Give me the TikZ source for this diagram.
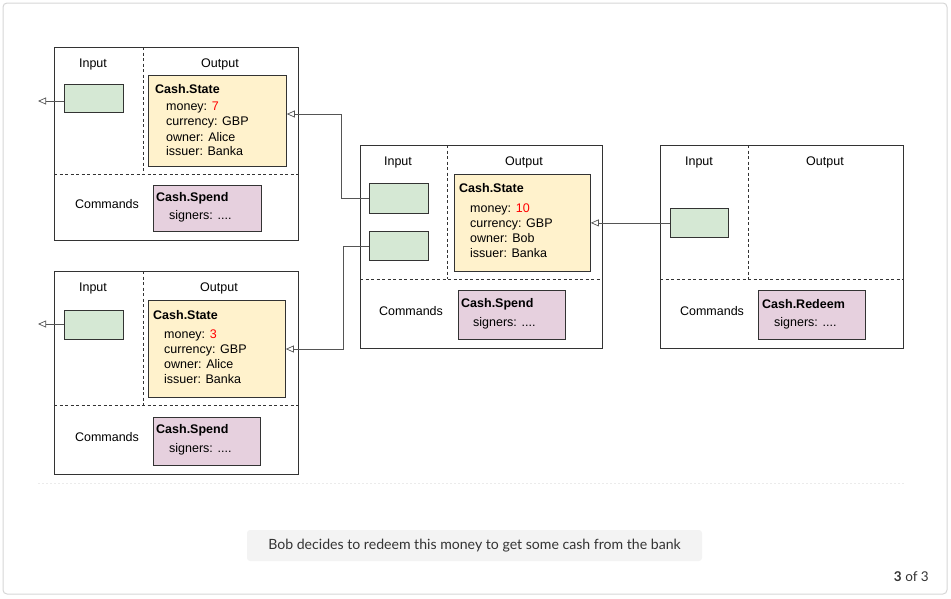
\documentclass[tikz,border=0pt]{standalone}
\usepackage{fontspec}
\setmainfont{Liberation Sans}
\newfontfamily\capfont{Lato}
\usetikzlibrary{arrows.meta}
\definecolor{gfill}{HTML}{D5E8D4}
\definecolor{yfill}{HTML}{FFF2CC}
\definecolor{pfill}{HTML}{E6D0DE}
\definecolor{edge}{HTML}{333333}
\definecolor{conn}{HTML}{555555}
\definecolor{frame}{HTML}{D6D6D6}
\definecolor{capbg}{HTML}{F3F3F3}
\definecolor{captxt}{HTML}{333333}
\tikzset{
  txbox/.style={draw=edge, line width=0.8pt, fill=white},
  sep/.style={draw=edge, line width=0.8pt, dash pattern=on 3pt off 2.5pt},
  greenbox/.style={draw=edge, line width=0.8pt, fill=gfill},
  yellowbox/.style={draw=edge, line width=0.8pt, fill=yfill},
  purplebox/.style={draw=edge, line width=0.8pt, fill=pfill},
  lbl/.style={font=\fontsize{12.5}{14}\selectfont, inner sep=0pt},
  ltxt/.style={font=\fontsize{12.5}{14}\selectfont, inner sep=0pt, anchor=west},
  btxt/.style={font=\fontsize{12.5}{14}\selectfont\bfseries, inner sep=0pt, anchor=west},
  arr/.style={draw=conn, line width=0.7pt, -{Triangle[open, length=8pt, width=7pt]}},
}
\newcommand{\redv}[1]{\textcolor{red}{#1}}
\begin{document}
\begin{tikzpicture}[x=1pt, y=-1pt]
\useasboundingbox (0,0) rectangle (951,598);
\draw[frame, line width=1pt, rounded corners=4pt] (3,3) rectangle (947,594);
\draw[black!8, line width=0.6pt, dash pattern=on 2pt off 2pt] (38,483) -- (905,483);

% ---------- Box 1 (top-left) ----------
\path[txbox] (54,47) rectangle (298,240);
\draw[sep] (143,47) -- (143,174);
\draw[sep] (54,174) -- (298,174);
\node[lbl] (in1) at (93,64) {Input};
\node[lbl] (out1) at (220,64) {Output};
\node[greenbox, minimum width=59pt, minimum height=28pt, anchor=north west] (g1) at (64,84) {};
\node[yellowbox, minimum width=138pt, minimum height=91pt, anchor=north west] (y1) at (148,75) {};
\node[btxt] (t1a) at (155,89) {Cash.State};
\node[ltxt] (t1b) at (166,107) {money: \redv{7}};
\node[ltxt] (t1c) at (166,122) {currency: GBP};
\node[ltxt] (t1d) at (166,137) {owner: Alice};
\node[ltxt] (t1e) at (166,151.5) {issuer: Banka};
\node[lbl] (cm1) at (107,204) {Commands};
\node[purplebox, minimum width=108pt, minimum height=46pt, anchor=north west] (p1) at (153,185) {};
\node[btxt] (p1a) at (156,198) {Cash.Spend};
\node[ltxt] (p1b) at (169,216.5) {signers: ....};

% ---------- Box 2 (bottom-left) ----------
\path[txbox] (54,271) rectangle (298,474);
\draw[sep] (143,271) -- (143,405);
\draw[sep] (54,405) -- (298,405);
\node[lbl] (in2) at (93,288.5) {Input};
\node[lbl] (out2) at (219,288.5) {Output};
\node[greenbox, minimum width=59pt, minimum height=29pt, anchor=north west] (g2) at (64,310) {};
\node[yellowbox, minimum width=137pt, minimum height=97pt, anchor=north west] (y2) at (148,300) {};
\node[btxt] (t2a) at (153,315) {Cash.State};
\node[ltxt] (t2b) at (164,335) {money: \redv{3}};
\node[ltxt] (t2c) at (164,350) {currency: GBP};
\node[ltxt] (t2d) at (164,364.5) {owner: Alice};
\node[ltxt] (t2e) at (164,379.5) {issuer: Banka};
\node[lbl] (cm2) at (107,437) {Commands};
\node[purplebox, minimum width=107pt, minimum height=48pt, anchor=north west] (p2) at (153,417) {};
\node[btxt] (p2a) at (156,430) {Cash.Spend};
\node[ltxt] (p2b) at (169,449) {signers: ....};

% ---------- Box 3 (middle) ----------
\path[txbox] (360,145) rectangle (602,348);
\draw[sep] (447,145) -- (447,279);
\draw[sep] (360,279) -- (602,279);
\node[lbl] (in3) at (398,162.5) {Input};
\node[lbl] (out3) at (524,162.5) {Output};
\node[greenbox, minimum width=59pt, minimum height=30pt, anchor=north west] (g3a) at (369,183) {};
\node[greenbox, minimum width=59pt, minimum height=29pt, anchor=north west] (g3b) at (369,231) {};
\node[yellowbox, minimum width=136pt, minimum height=97pt, anchor=north west] (y3) at (454,174) {};
\node[btxt] (t3a) at (459,188.5) {Cash.State};
\node[ltxt] (t3b) at (470,209.5) {money: \redv{10}};
\node[ltxt] (t3c) at (470,224) {currency: GBP};
\node[ltxt] (t3d) at (470,238.5) {owner: Bob};
\node[ltxt] (t3e) at (470,253) {issuer: Banka};
\node[lbl] (cm3) at (411,311) {Commands};
\node[purplebox, minimum width=107pt, minimum height=49pt, anchor=north west] (p3) at (458,290) {};
\node[btxt] (p3a) at (461,304.5) {Cash.Spend};
\node[ltxt] (p3b) at (473,323.5) {signers: ....};

% ---------- Box 4 (right) ----------
\path[txbox] (660,145) rectangle (903,348);
\draw[sep] (748,145) -- (748,279);
\draw[sep] (660,279) -- (903,279);
\node[lbl] (in4) at (699,162.5) {Input};
\node[lbl] (out4) at (825,162.5) {Output};
\node[greenbox, minimum width=58pt, minimum height=29pt, anchor=north west] (g4) at (670,208) {};
\node[lbl] (cm4) at (712,311) {Commands};
\node[purplebox, minimum width=107pt, minimum height=49pt, anchor=north west] (p4) at (758,290) {};
\node[btxt] (p4a) at (762,304) {Cash.Redeem};
\node[ltxt] (p4b) at (774,323.5) {signers: ....};

% ---------- Connectors ----------
\coordinate (e1) at (38,101);
\coordinate (e2) at (38,324);
\coordinate (k1) at (0,114);
\coordinate (k2) at (0,349);
\draw[arr] (g1.west |- e1) -- (e1);
\draw[arr] (g2.west |- e2) -- (e2);
\draw[arr] (g4.west) -- (y3.east |- g4.west);
\draw[arr] (g3a.west) -- ++(-28,0) |- (y1.east |- k1);
\draw[arr] (g3b.west) -- ++(-26,0) |- (y2.east |- k2);

% ---------- Caption ----------
\node[fill=capbg, rounded corners=3pt, minimum width=455pt, minimum height=31pt,
      text=captxt, font=\capfont\fontsize{14.1}{16}\selectfont] (cap) at (474.5,545.5)
      {Bob decides to redeem this money to get some cash from the bank};
\node[anchor=east, inner sep=0pt, text=captxt, font=\capfont\fontsize{13.5}{15}\selectfont] (pg) at (929,577)
      {\textbf{3} of 3};
\end{tikzpicture}
\end{document}
